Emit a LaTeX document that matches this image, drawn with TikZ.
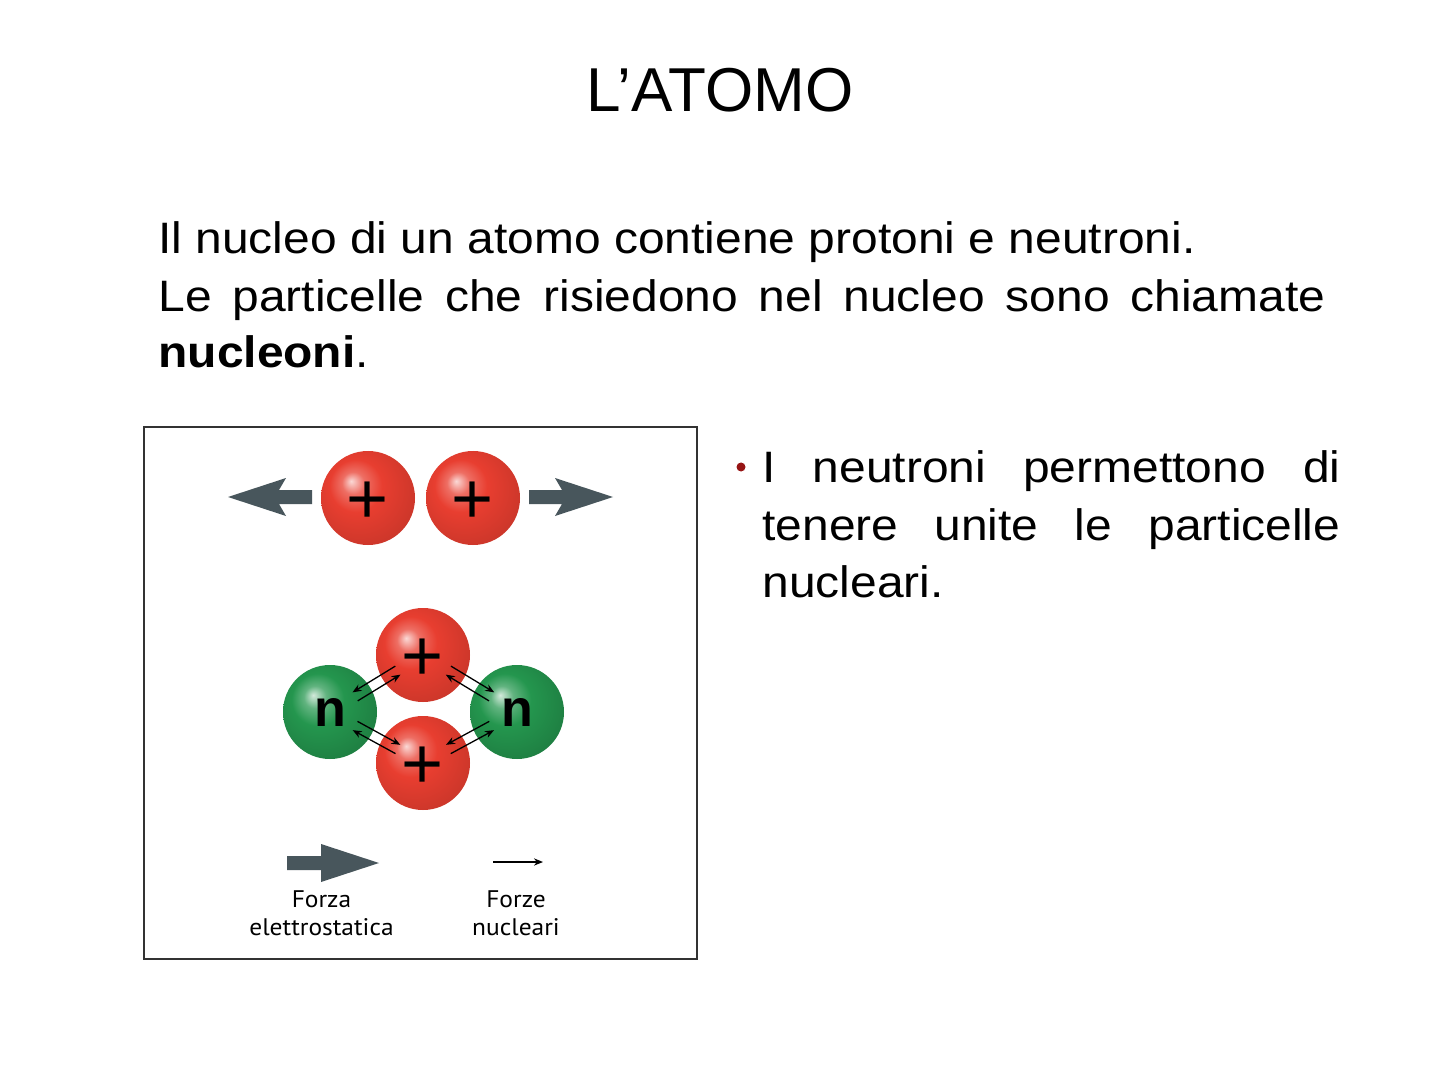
\documentclass[tikz,border=0pt]{standalone}
\usepackage{fontspec}
\setmainfont{Liberation Sans}
\newfontfamily\bodyfont[FakeStretch=1.09]{Liberation Sans}
\newfontfamily\legendfont[FakeStretch=1.06]{PT Sans}
\usetikzlibrary{arrows.meta,calc}
\definecolor{pRed}{RGB}{232,62,48}
\definecolor{pGreen}{RGB}{36,150,78}
\definecolor{pSlate}{RGB}{72,86,92}
\definecolor{pBullet}{RGB}{150,20,20}
\pgfdeclareradialshading{redball}{\pgfpoint{-9bp}{9bp}}{color(0bp)=(pRed!20!white); color(6bp)=(pRed!75!white); color(14bp)=(pRed); color(30bp)=(pRed!88!black); color(50bp)=(pRed!72!black)}
\pgfdeclareradialshading{greenball}{\pgfpoint{-9bp}{9bp}}{color(0bp)=(pGreen!20!white); color(6bp)=(pGreen!72!white); color(14bp)=(pGreen); color(30bp)=(pGreen!85!black); color(50bp)=(pGreen!68!black)}
\tikzset{
    proton/.style={circle, minimum size=47pt, inner sep=0pt, shading=redball,
        font=\fontsize{36}{36}\selectfont, text height=25.3pt, text depth=0pt},
    neutron/.style={circle, minimum size=47pt, inner sep=0pt, shading=greenball,
        font=\fontsize{26}{26}\selectfont\bfseries},
    nforce/.style={line width=0.65pt, -{Stealth[length=4.5pt,width=3.6pt]}},
    body/.style={anchor=base west, inner sep=0pt, font=\bodyfont\fontsize{22}{26}\selectfont},
    legend/.style={anchor=base, inner sep=0pt, font=\legendfont\fontsize{12}{14}\selectfont}
}

\begin{document}
\begin{tikzpicture}[x=0.5pt,y=-0.5pt]
\fill[white] (0,0) rectangle (1440,1080);
\useasboundingbox (0,0) rectangle (1440,1080);
\node[anchor=base, inner sep=0pt, font=\fontsize{31}{31}\selectfont] (title) at (720,112) {L’ATOMO};
\node[body] (line1) at (158,254) {Il nucleo di un atomo contiene protoni e neutroni.};
\node[body] (line2) at (158,312) {\makebox[583.5pt][s]{Le particelle che risiedono nel nucleo sono chiamate}};
\node[body] (line3) at (158,368) {\textbf{nucleoni}.};
\draw[line width=0.75pt, black!80] (144,427) rectangle (697,959);
\fill[pSlate] (228,497) -- (286,478) -- (279,490) -- (312,490) -- (312,504) -- (279,504) -- (286,516) -- cycle;
\fill[pSlate] (613,497) -- (555,478) -- (562,490) -- (529,490) -- (529,504) -- (562,504) -- (555,516) -- cycle;
\node[proton] (pa) at (368,498) {+};
\node[proton] (pb) at (473,498) {+};
\node[proton] (pt) at (423,655) {+};
\node[proton] (pd) at (423,763) {+};
\node[neutron] (nl) at (330,712) {n};
\node[neutron] (nr) at (517,712) {n};
\foreach \p/\n/\ao/\ai in {pt/nl/-90/90, pt/nr/90/-90, pd/nl/90/-90, pd/nr/-90/90} {
    \draw[nforce] ($(\p)!0.27!(\n)!2.5pt!\ao:(\n)$) -- ($(\p)!0.73!(\n)!2.5pt!\ao:(\n)$);
    \draw[nforce] ($(\p)!0.73!(\n)!2.5pt!\ai:(\n)$) -- ($(\p)!0.27!(\n)!2.5pt!\ai:(\n)$);
}
\fill[pSlate] (287,856) -- (321,856) -- (321,844) -- (379,863) -- (321,882) -- (321,870) -- (287,870) -- cycle;
\coordinate (nfs) at (493,862);
\coordinate (nfe) at (543,862);
\draw[nforce] (nfs) -- (nfe);
\node[legend] (lea) at (321.5,907) {Forza};
\node[legend] (leb) at (321.5,935) {elettrostatica};
\node[legend] (lna) at (516,907) {Forze};
\node[legend] (lnb) at (516,935) {nucleari};
\node[circle, fill=pBullet, minimum size=4.5pt, inner sep=0pt] (dot) at (741,467) {};
\node[body] (bl1) at (762,482) {\makebox[289pt][s]{I neutroni permettono di}};
\node[body] (bl2) at (762,540) {\makebox[289pt][s]{tenere unite le particelle}};
\node[body] (bl3) at (762,597) {nucleari.};
\end{tikzpicture}
\end{document}
